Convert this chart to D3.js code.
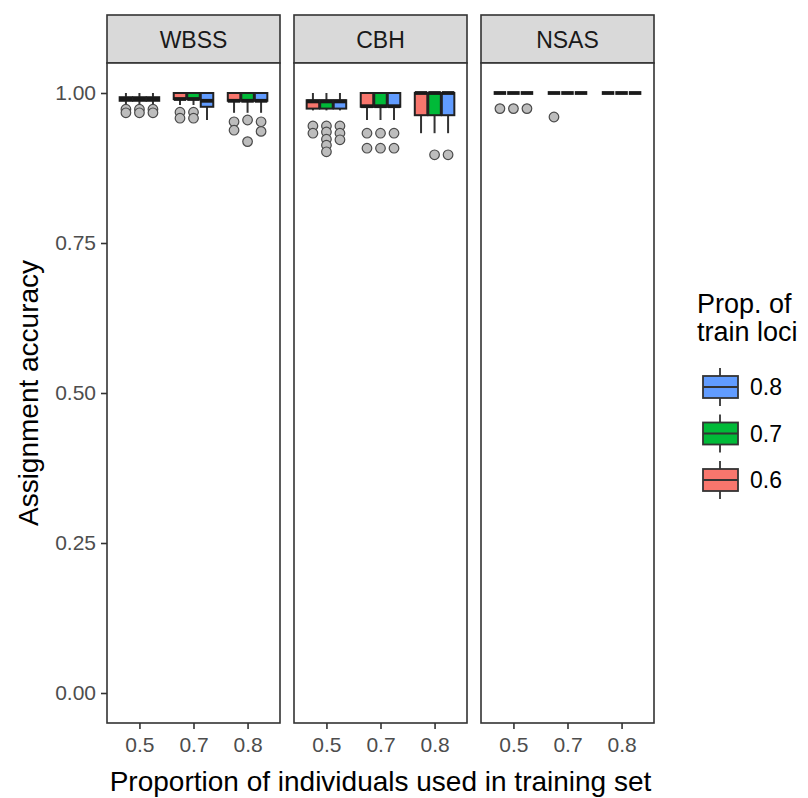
<!DOCTYPE html>
<html><head><meta charset="utf-8">
<script src="https://cdn.jsdelivr.net/npm/d3@7"></script>
<style>body{margin:0;background:#fff}svg{display:block;font-family:"Liberation Sans",Arial,sans-serif}</style>
</head><body><svg id="c" width="808" height="798"></svg>
<script>
// ---- data ----
const panels = ["WBSS", "CBH", "NSAS"];
const trainInd = ["0.5", "0.7", "0.8"];          // x categories
const trainLoci = ["0.6", "0.7", "0.8"];         // fill groups
const lociColors = ["#F8766D", "#00BA38", "#619CFF"];
const yTicks = [0, 0.25, 0.5, 0.75, 1];
// box stats per panel, order: ind 0.5 (loci 0.6,0.7,0.8), ind 0.7 (...), ind 0.8 (...)
// [lowerWhisker, q1, median, q3, upperWhisker]
const wbssStats = [
  [0.980, 0.987, 0.990, 0.993, 1.0], [0.980, 0.987, 0.990, 0.993, 1.0], [0.980, 0.987, 0.990, 0.993, 1.0],
  [0.980, 0.990, 0.990, 1.0, 1.0], [0.980, 0.990, 0.990, 1.0, 1.0], [0.955, 0.977, 0.987, 1.0, 1.0],
  [0.967, 0.987, 0.987, 1.0, 1.0], [0.967, 0.987, 0.987, 1.0, 1.0], [0.967, 0.987, 0.987, 1.0, 1.0]
];
const cbhStats = [
  [0.971, 0.974, 0.986, 0.988, 1.0], [0.971, 0.974, 0.986, 0.988, 1.0], [0.971, 0.974, 0.986, 0.988, 1.0],
  [0.955, 0.977, 0.978, 1.0, 1.0], [0.955, 0.977, 0.978, 1.0, 1.0], [0.955, 0.977, 0.978, 1.0, 1.0],
  [0.933, 0.963, 1.0, 1.0, 1.0], [0.933, 0.963, 1.0, 1.0, 1.0], [0.933, 0.963, 1.0, 1.0, 1.0]
];
const nsasStats = [
  [1, 1, 1, 1, 1], [1, 1, 1, 1, 1], [1, 1, 1, 1, 1],
  [1, 1, 1, 1, 1], [1, 1, 1, 1, 1], [1, 1, 1, 1, 1],
  [1, 1, 1, 1, 1], [1, 1, 1, 1, 1], [1, 1, 1, 1, 1]
];
// outliers for each box, same order
const wbssOutliers = [
  [0.973, 0.967], [0.973, 0.967], [0.973, 0.967],
  [0.968, 0.958], [0.968, 0.958], [],
  [0.952, 0.938], [0.955, 0.919], [0.952, 0.936]
];
const cbhOutliers = [
  [0.945, 0.933], [0.945, 0.935, 0.923, 0.913, 0.902], [0.945, 0.933, 0.922],
  [0.933, 0.908], [0.933, 0.908], [0.933, 0.908],
  [], [0.897], [0.897]
];
const nsasOutliers = [
  [0.974], [0.974], [0.974],
  [0.960], [], [],
  [], [], []
];
const allStats = [wbssStats, cbhStats, nsasStats];
const allOutliers = [wbssOutliers, cbhOutliers, nsasOutliers];

// ---- layout ----
const svg = d3.select("#c");
const panelW = 173, panelGap = 14, left0 = 107;
const plotTop = 63, plotBottom = 723, stripTop = 15;
const dark = "#333333";

const y = d3.scaleLinear().domain([-0.05, 1.05]).range([plotBottom, plotTop]);
const x = d3.scalePoint().domain(trainInd).range([0, panelW]).padding(0.6);
const dodgeW = x.step() * 0.75;
const dodge = d3.scaleBand().domain(trainLoci).range([-dodgeW / 2, dodgeW / 2]);
const color = d3.scaleOrdinal().domain(trainLoci).range(lociColors);

panels.forEach((p, pi) => {
  const g = svg.append("g").attr("transform", `translate(${left0 + pi * (panelW + panelGap)},0)`);
  g.append("rect").attr("x", 0).attr("y", stripTop).attr("width", panelW).attr("height", plotTop - stripTop)
    .attr("fill", "#D9D9D9").attr("stroke", dark).attr("stroke-width", 1.6);
  g.append("text").attr("x", panelW / 2).attr("y", (stripTop + plotTop) / 2 + 1).attr("text-anchor", "middle")
    .attr("dominant-baseline", "central").attr("font-size", 23).attr("fill", "#1A1A1A").text(p);
  g.append("rect").attr("x", 0).attr("y", plotTop).attr("width", panelW).attr("height", plotBottom - plotTop).attr("fill", "#fff");

  const stats = allStats[pi], outs = allOutliers[pi];
  const data = [];
  trainInd.forEach((ti, i) => trainLoci.forEach((tl, j) => {
    data.push({ind: ti, loci: tl, s: stats[i * 3 + j], o: outs[i * 3 + j]});
  }));
  const bw = dodge.bandwidth();
  data.forEach(d => {
    const cx = x(d.ind) + dodge(d.loci) + bw / 2;
    const [lo, q1, md, q3, hi] = d.s;
    const bg = g.append("g");
    bg.append("line").attr("x1", cx).attr("x2", cx).attr("y1", y(hi)).attr("y2", y(q3)).attr("stroke", dark).attr("stroke-width", 2);
    bg.append("line").attr("x1", cx).attr("x2", cx).attr("y1", y(q1)).attr("y2", y(lo)).attr("stroke", dark).attr("stroke-width", 2);
    bg.append("rect").attr("x", cx - bw / 2 + 0.5).attr("width", bw - 1).attr("y", y(q3)).attr("height", Math.max(0, y(q1) - y(q3)))
      .attr("fill", color(d.loci)).attr("stroke", "#222").attr("stroke-width", 2);
    bg.append("line").attr("x1", cx - bw / 2 + 0.5).attr("x2", cx + bw / 2 - 0.5).attr("y1", y(md)).attr("y2", y(md))
      .attr("stroke", "#1a1a1a").attr("stroke-width", 3.8);
    d.o.forEach(v => {
      bg.append("circle").attr("cx", cx).attr("cy", y(v)).attr("r", 4.8)
        .attr("fill", "#BDBDBD").attr("stroke", "#4a4a4a").attr("stroke-width", 1.2);
    });
  });
  g.append("rect").attr("x", 0).attr("y", plotTop).attr("width", panelW).attr("height", plotBottom - plotTop)
    .attr("fill", "none").attr("stroke", dark).attr("stroke-width", 1.6);
  const xa = g.append("g").attr("transform", `translate(0,${plotBottom})`)
    .call(d3.axisBottom(x).tickSize(6).tickPadding(8));
  xa.select(".domain").remove();
  xa.selectAll(".tick line").attr("stroke", dark).attr("stroke-width", 1.6);
  xa.selectAll(".tick text").attr("font-size", 21).attr("fill", "#4D4D4D").attr("font-family", "Liberation Sans, Arial, sans-serif");
});

const ya = svg.append("g").attr("transform", `translate(${left0},0)`)
  .call(d3.axisLeft(y).tickValues(yTicks).tickFormat(d3.format(".2f")).tickSize(6).tickPadding(5));
ya.select(".domain").remove();
ya.selectAll(".tick line").attr("stroke", dark).attr("stroke-width", 1.6);
ya.selectAll(".tick text").attr("font-size", 21).attr("fill", "#4D4D4D").attr("font-family", "Liberation Sans, Arial, sans-serif");

svg.append("text").attr("x", left0 + (3 * panelW + 2 * panelGap) / 2).attr("y", 791).attr("text-anchor", "middle")
  .attr("font-size", 28).attr("fill", "#000").text("Proportion of individuals used in training set");
svg.append("text").attr("transform", `translate(38,${(plotTop + plotBottom) / 2}) rotate(-90)`).attr("text-anchor", "middle")
  .attr("font-size", 28).attr("fill", "#000").text("Assignment accuracy");

const lg = svg.append("g");
lg.append("text").attr("x", 697).attr("y", 313).attr("font-size", 27).text("Prop. of");
lg.append("text").attr("x", 697).attr("y", 341).attr("font-size", 27).text("train loci");
const legOrder = trainLoci.slice().reverse();
legOrder.forEach((l, i) => {
  const cy = 387 + i * 46.5;
  lg.append("line").attr("x1", 720).attr("x2", 720).attr("y1", cy - 19).attr("y2", cy + 19).attr("stroke", dark).attr("stroke-width", 1.8);
  lg.append("rect").attr("x", 703).attr("y", cy - 11).attr("width", 35).attr("height", 22)
    .attr("fill", color(l)).attr("stroke", dark).attr("stroke-width", 1.8);
  lg.append("line").attr("x1", 703).attr("x2", 738).attr("y1", cy).attr("y2", cy).attr("stroke", dark).attr("stroke-width", 2.2);
  lg.append("text").attr("x", 750).attr("y", cy).attr("dominant-baseline", "central").attr("font-size", 23).attr("fill", "#000").text(l);
});
</script></body></html>
